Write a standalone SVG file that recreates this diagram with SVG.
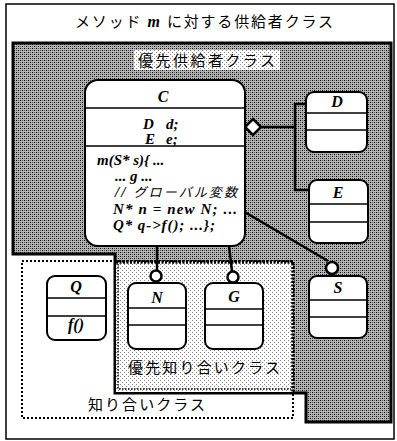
<svg xmlns="http://www.w3.org/2000/svg" width="397" height="441" viewBox="0 0 397 441">
<defs>
<pattern id="dense" width="4" height="4" patternUnits="userSpaceOnUse"><rect width="4" height="4" fill="#b4b4b4"/><rect width="1" height="1" fill="#000"/><rect x="2" y="2" width="1" height="1" fill="#000"/><rect x="2" y="0" width="1" height="1" fill="#555"/><rect x="0" y="2" width="1" height="1" fill="#555"/></pattern>
<pattern id="light" width="4" height="4" patternUnits="userSpaceOnUse"><rect width="4" height="4" fill="#fff"/><rect width="1" height="1" fill="#888"/><rect x="2" y="2" width="1" height="1" fill="#888"/></pattern>
<style>
.node{fill:#fff;stroke:#000;stroke-width:2}
.sep{stroke:#000;stroke-width:1.5;fill:none}
.cls{font-family:"Liberation Serif",serif;font-weight:bold;font-style:italic;font-size:16px;text-anchor:middle}
.code{font-family:"Liberation Serif",serif;font-weight:bold;font-style:italic;font-size:15px}
.jp{font-family:"Noto Sans CJK JP",sans-serif;font-size:15px}
.conn{stroke:#000;stroke-width:2.5;fill:none}
.ball{fill:#fff;stroke:#000;stroke-width:2.5}
</style>
</defs>
<rect x="6" y="4" width="388" height="435" fill="#fff" stroke="#000" stroke-width="1.5"/>
<text class="jp" x="75" y="27" textLength="258" lengthAdjust="spacing">メソッド <tspan font-family="Liberation Serif" font-weight="bold" font-style="italic" font-size="16">m</tspan> に対する供給者クラス</text>
<g id="priority-supplier">
<path d="M13,43 H391 V422 H306 V393 H115 V254 H13 Z" fill="url(#dense)" stroke="#000" stroke-width="3"/>
<rect x="134" y="50" width="146" height="20" fill="url(#light)"/>
<text class="jp" x="138" y="66" textLength="137" lengthAdjust="spacing">優先供給者クラス</text>
</g>
<g id="acquaintance">
<rect x="22" y="261" width="271" height="157" fill="none" stroke="#000" stroke-width="2" stroke-dasharray="2,2"/>
<text class="jp" x="88" y="410" textLength="117" lengthAdjust="spacing">知り合いクラス</text>
</g>
<g id="priority-acquaintance">
<rect x="116" y="262" width="177" height="130" fill="url(#light)"/>
<path d="M116,262 H293 V392" fill="none" stroke="#000" stroke-width="3.5" stroke-dasharray="2,1.5"/>
<path d="M118,264 V389 H291" fill="none" stroke="#000" stroke-width="1.5" stroke-dasharray="1.5,1.5"/>
<text class="jp" x="128" y="373" textLength="152" lengthAdjust="spacing">優先知り合いクラス</text>
</g>
<g id="connectors">
<polygon points="245,127 253,119 261,127 253,135" fill="#fff" stroke="#000" stroke-width="2.5"/>
<path class="conn" d="M261,127 H295"/>
<path class="conn" d="M307,104 H295 V190 H310" stroke-width="3"/>
<path class="conn" d="M243,211 L328,261"/>
<path class="conn" d="M157,246 V270"/>
<path class="conn" d="M229,246 L232,271"/>
</g>
<g id="C">
<rect class="node" x="85" y="80" width="160" height="166" rx="13"/>
<path class="sep" d="M85,108 H245 M85,146 H245"/>
<text class="cls" x="163" y="102">C</text>
<text class="code" x="143" y="129">D</text><text class="code" x="166" y="129">d;</text>
<text class="code" x="145" y="144">E</text><text class="code" x="166" y="144">e;</text>
<text class="code" x="97" y="165">m(S* s){ ...</text>
<text class="code" x="115" y="181">... g ...</text>
<text class="code" x="115" y="197" textLength="122" lengthAdjust="spacing">// <tspan font-family="Noto Sans CJK JP" font-weight="normal" font-size="13">グローバル変数</tspan></text>
<text class="code" x="113" y="214" textLength="124" lengthAdjust="spacing">N* n = new N; ...</text>
<text class="code" x="113" y="230" textLength="102" lengthAdjust="spacing">Q* q-&gt;f(); ...};</text>
</g>
<g id="D">
<rect class="node" x="306" y="92" width="61" height="60" rx="8"/>
<path class="sep" d="M306,113 H367 M306,130 H367"/>
<text class="cls" x="337" y="107">D</text>
</g>
<g id="E">
<rect class="node" x="309" y="180" width="59" height="63" rx="8"/>
<path class="sep" d="M309,204 H368 M309,222 H368"/>
<text class="cls" x="338" y="198">E</text>
</g>
<g id="S">
<circle class="ball" cx="332" cy="268" r="6"/>
<rect class="node" x="309" y="276" width="58" height="62" rx="8"/>
<path class="sep" d="M309,300 H367 M309,317 H367"/>
<text class="cls" x="338" y="293">S</text>
</g>
<g id="N">
<circle class="ball" cx="156" cy="276" r="5.5"/>
<rect class="node" x="128" y="283" width="58" height="66" rx="8"/>
<path class="sep" d="M128,308 H186 M128,325 H186"/>
<text class="cls" x="157" y="303">N</text>
</g>
<g id="G">
<circle class="ball" cx="233" cy="277" r="5.5"/>
<rect class="node" x="205" y="283" width="58" height="66" rx="8"/>
<path class="sep" d="M205,309 H263 M205,325 H263"/>
<text class="cls" x="234" y="302">G</text>
</g>
<g id="Q">
<rect class="node" x="47" y="276" width="59" height="64" rx="8"/>
<path class="sep" d="M47,298 H106 M47,316 H106"/>
<text class="cls" x="76" y="292">Q</text>
<text class="cls" x="76" y="330" font-size="14">f()</text>
</g>
</svg>
